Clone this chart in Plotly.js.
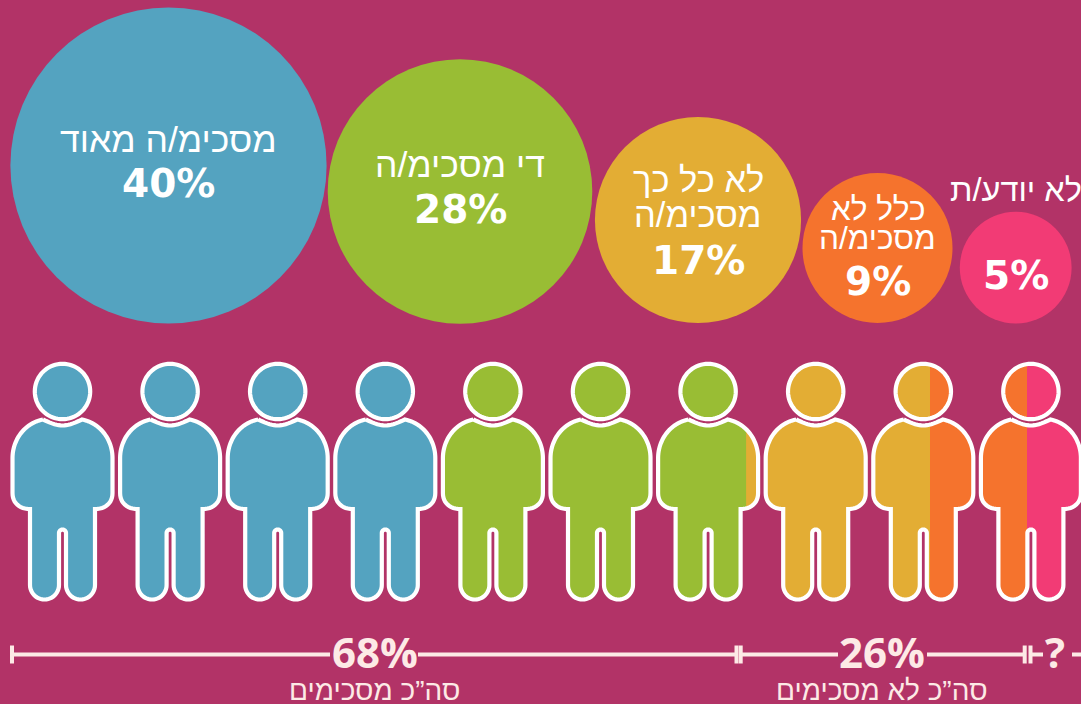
<!DOCTYPE html>
<html><head><meta charset="utf-8">
<script src="https://cdn.plot.ly/plotly-3.0.1.min.js"></script>
<style>html,body{margin:0;padding:0;background:#b23367;overflow:hidden}</style>
</head><body><div id="chart" style="width:1081px;height:704px"></div>
<script>
// ---------- data ----------
const answerShares = [40, 28, 17, 9, 5];
const answerLines = [["מסכימ/ה מאוד"], ["די מסכימ/ה"], ["לא כל כך", "מסכימ/ה"], ["כלל לא", "מסכימ/ה"], ["לא יודע/ת"]];
const answerColors = ["#54a3c0", "#99bd34", "#e3ad34", "#f5732d", "#f23b75"];
const personFirst  = [0, 0, 0, 0, 1, 1, 1, 2, 2, 3];
const personSecond = [0, 0, 0, 0, 1, 1, 2, 2, 3, 4];
const personSplit  = [1, 1, 1, 1, 1, 1, 0.88, 1, 0.567, 0.461];
const totalLabels  = ["68%", "26%", "?"];
const totalCaptions = ["סה”כ מסכימים", "סה”כ לא מסכימים", ""];

// ---------- placement ----------
const BG = "#b23367", INK = "#ffffff", PALE = "#fdeae6";
const bubbleX = [168.5, 460, 698, 877.5, 1015.7];
const bubbleY = [165.5, 191.5, 220, 248, 267.7];
const lineY = [[140], [165], [180, 215], [209, 238], [190]];
const lineSize = [35.5, 35.5, 34.5, 31.6, 32.5];
const numberY = [183, 209, 260, 281, 275];
const numberSize = [39, 39, 39, 39, 39];
const personX0 = 62.5, personStep = 107.6;
const totalX = [374.5, 882, 1055], totalCaptionX = [374.5, 882, 0];
const ruleSegments = [[12, 330], [418, 736], [741, 838], [927, 1025], [1030.5, 1043], [1072, 1081]];
const ruleCaps = [12, 736.5, 740.7, 1024.7, 1030.5];

// ---------- silhouette helpers ----------
function bez(p0, p1, p2, p3, n) {
  const out = [];
  for (let i = 1; i <= n; i++) {
    const t = i / n, u = 1 - t;
    out.push([u*u*u*p0[0] + 3*u*u*t*p1[0] + 3*u*t*t*p2[0] + t*t*t*p3[0],
              u*u*u*p0[1] + 3*u*u*t*p1[1] + 3*u*t*t*p2[1] + t*t*t*p3[1]]);
  }
  return out;
}
function arc(cx, cy, r, a0, a1, n) {
  const out = [];
  for (let i = 0; i <= n; i++) {
    const a = (a0 + (a1 - a0) * i / n) * Math.PI / 180;
    out.push([cx + r * Math.cos(a), cy + r * Math.sin(a)]);
  }
  return out;
}
function leftHalf() {
  let p = [[-19.5, 419.5]];
  p = p.concat(bez([-19.5,419.5], [-38,423], [-50,440], [-50,458], 24));
  p.push([-50, 493]);
  p = p.concat(bez([-50,493], [-50,503], [-43,509], [-32.5,509], 12));
  p.push([-32.5, 585]);
  p = p.concat(arc(-18, 585, 14.5, 180, 0, 24));
  p.push([-3.5, 533]);
  p = p.concat(arc(0, 533, 3.5, 180, 270, 6));
  return p;
}
function bodyOutline() {
  const l = leftHalf();
  const r = l.slice().reverse().map(q => [-q[0], q[1]]);
  const neck = bez([19.5,419.5], [10,424], [5,425.5], [0,425.5], 8)
    .concat(bez([0,425.5], [-5,425.5], [-10,424], [-19.5,419.5], 8));
  return l.concat(r).concat(neck);
}
const headOutline = arc(0, 391.5, 27.7, 0, 360, 72);
function clipRight(poly, xMax) {
  const out = [];
  for (let i = 0; i < poly.length; i++) {
    const a = poly[i], b = poly[(i + 1) % poly.length];
    const ai = a[0] <= xMax, bi = b[0] <= xMax;
    if (ai) out.push(a);
    if (ai !== bi) {
      const t = (xMax - a[0]) / (b[0] - a[0]);
      out.push([xMax, a[1] + t * (b[1] - a[1])]);
    }
  }
  return out;
}
function fillTrace(polys, cx, color) {
  const x = [], y = [];
  polys.forEach(poly => {
    poly.forEach(q => { x.push(cx + q[0]); y.push(q[1]); });
    if (poly.length) { x.push(cx + poly[0][0]); y.push(poly[0][1]); }
    x.push(null); y.push(null);
  });
  return {x, y, type: "scatter", mode: "lines", fill: "toself", fillcolor: color,
          line: {width: 0, color: color}, hoverinfo: "skip"};
}

const traces = [];
// bubbles, area proportional to the share
traces.push({
  x: bubbleX, y: bubbleY, type: "scatter", mode: "markers", hoverinfo: "skip",
  marker: {size: answerShares, sizemode: "area", sizeref: 1 / 1250,
           color: answerColors, opacity: 1, line: {width: 0}}
});
// people
const body = bodyOutline();
personFirst.forEach((first, i) => {
  const cx = personX0 + i * personStep;
  traces.push(fillTrace([body, headOutline], cx, answerColors[personSecond[i]]));
  if (personSplit[i] < 1) {
    const xs = -50 + 100 * personSplit[i];
    traces.push(fillTrace([clipRight(body, xs), clipRight(headOutline, xs)], cx, answerColors[first]));
  } else {
    traces.push(fillTrace([body, headOutline], cx, answerColors[first]));
  }
  const ox = [], oy = [];
  [body, headOutline].forEach(poly => {
    poly.forEach(q => { ox.push(cx + q[0]); oy.push(q[1]); });
    ox.push(cx + poly[0][0]); oy.push(poly[0][1]);
    ox.push(null); oy.push(null);
  });
  traces.push({x: ox, y: oy, type: "scatter", mode: "lines", hoverinfo: "skip",
               line: {color: INK, width: 4.2, simplify: false}});
});
// total rule
ruleSegments.forEach(s => traces.push({x: s, y: [654.5, 654.5], type: "scatter", mode: "lines",
  hoverinfo: "skip", line: {color: PALE, width: 4}}));
ruleCaps.forEach(c => traces.push({x: [c, c], y: [645.5, 663.5], type: "scatter", mode: "lines",
  hoverinfo: "skip", line: {color: PALE, width: 4}}));

// texts
const annotations = [];
function note(x, y, text, size, family, color) {
  annotations.push({x, y, xref: "x", yref: "y", text, showarrow: false, xanchor: "center", yanchor: "middle",
    font: {size, family, color}, borderpad: 0, borderwidth: 0});
}
const HEB = "'Liberation Sans', sans-serif";
answerLines.forEach((lines, i) => {
  lines.forEach((t, j) => note(i === 4 ? 1016 : bubbleX[i], lineY[i][j], t, lineSize[i], HEB, INK));
  note(bubbleX[i], numberY[i], "<b>" + answerShares[i] + "%</b>", numberSize[i], "'DejaVu Sans', sans-serif", INK);
});
totalLabels.forEach((t, i) => {
  note(totalX[i], 651, "<b>" + t + "</b>", 42, "'Open Sans', sans-serif", PALE);
  if (totalCaptions[i]) note(totalCaptionX[i], 690, totalCaptions[i], 28, HEB, PALE);
});

Plotly.newPlot("chart", traces, {
  width: 1081, height: 704, margin: {l: 0, r: 0, t: 0, b: 0, pad: 0},
  paper_bgcolor: BG, plot_bgcolor: BG, showlegend: false, hovermode: false,
  xaxis: {range: [0, 1081], visible: false, fixedrange: true},
  yaxis: {range: [704, 0], visible: false, fixedrange: true},
  annotations
}, {displayModeBar: false, staticPlot: true});
</script></body></html>
